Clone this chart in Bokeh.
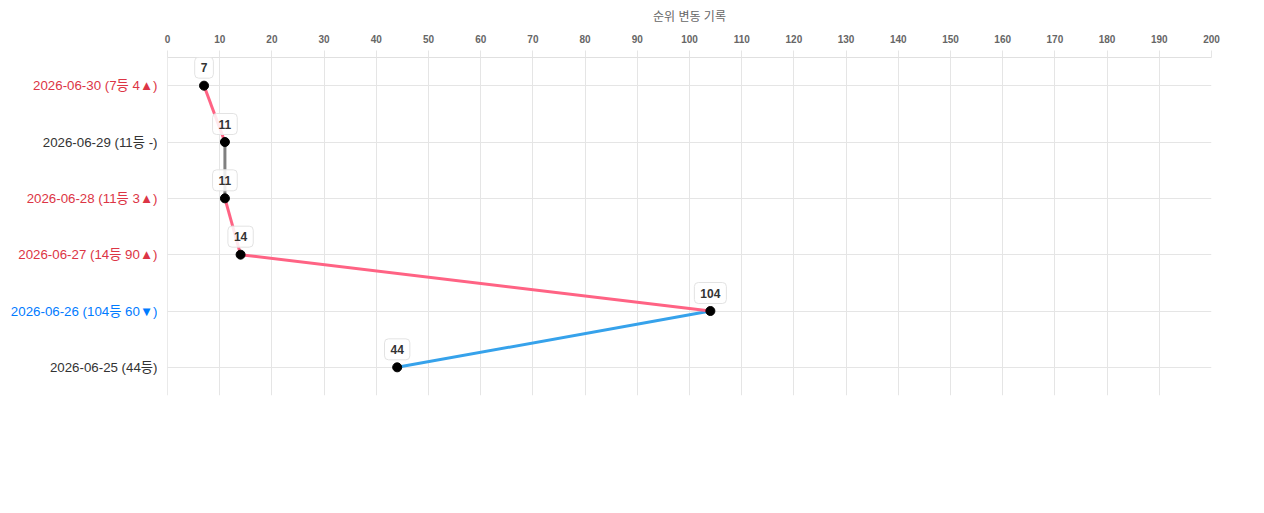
import numpy as np
from bokeh.plotting import figure
from bokeh.layouts import row
from bokeh.models import ColumnDataSource, Label, FixedTicker, Range1d, Span
from bokeh.core.properties import value
from bokeh.embed import file_html
from bokeh.resources import INLINE

# ---- data ----
dates = ["2026-06-25", "2026-06-26", "2026-06-27", "2026-06-28", "2026-06-29", "2026-06-30"]
ranks = [44, 104, 14, 11, 11, 7]
x_ticks = list(range(0, 201, 10))
title_text = "순위 변동 기록"

FONT = "Liberation Sans, Noto Sans CJK KR, sans-serif"
UP_TEXT = "#dc3545"
DOWN_TEXT = "#007bff"
FLAT_TEXT = "#333333"
UP_LINE = "#ff6384"
DOWN_LINE = "#36a2eb"
FLAT_LINE = "#808080"

labels, label_colors = [], []
for i, (d, r) in enumerate(zip(dates, ranks)):
    if i == 0:
        labels.append(f"{d} ({r}등)")
        label_colors.append(FLAT_TEXT)
        continue
    diff = ranks[i - 1] - r
    if diff > 0:
        labels.append(f"{d} ({r}등 {diff}▲)")
        label_colors.append(UP_TEXT)
    elif diff < 0:
        labels.append(f"{d} ({r}등 {-diff}▼)")
        label_colors.append(DOWN_TEXT)
    else:
        labels.append(f"{d} ({r}등 -)")
        label_colors.append(FLAT_TEXT)

TOP, BOTTOM, LEFT_W, GAP = 57, 110, 157, 10
H = 505

# ---- label column (category names, coloured per change) ----
lf = figure(width=LEFT_W, height=H, x_range=Range1d(0, 1), y_range=labels,
            output_backend="svg", toolbar_location=None,
            min_border_left=0, min_border_right=0, min_border_top=TOP, min_border_bottom=BOTTOM)
lf.axis.visible = False
lf.grid.visible = False
lf.outline_line_color = None
lsrc = ColumnDataSource(dict(x=[1] * len(labels), y=labels, lab=labels, col=label_colors))
lf.text(x="x", y="y", text="lab", source=lsrc, text_align="right",
        text_baseline="middle", text_font=value(FONT), text_font_size="13.3px", text_color="col")

# ---- main chart ----
p = figure(width=1256 - LEFT_W, height=H, x_range=Range1d(0, 200), y_range=lf.y_range,
           x_axis_location="above", output_backend="svg", toolbar_location=None,
           min_border_left=GAP, min_border_right=45, min_border_top=TOP, min_border_bottom=BOTTOM)
p.outline_line_color = None
p.background_fill_color = "white"

ticker = FixedTicker(ticks=x_ticks)
p.xaxis.ticker = ticker
p.xgrid.ticker = ticker
p.xaxis.axis_label = title_text
p.xaxis.axis_label_text_font = FONT
p.xaxis.axis_label_text_font_style = "normal"
p.xaxis.axis_label_text_font_size = "12px"
p.xaxis.axis_label_text_color = "#666666"
p.xaxis.axis_label_standoff = 8
p.xaxis.major_label_text_font = FONT
p.xaxis.major_label_text_font_style = "bold"
p.xaxis.major_label_text_font_size = "10px"
p.xaxis.major_label_text_color = "#666666"
p.xaxis.major_label_standoff = 8
p.xaxis.axis_line_color = "#e0e0e0"
p.xaxis.major_tick_line_color = "#e5e5e5"
p.xaxis.major_tick_out = 7
p.xaxis.major_tick_in = 0
p.xaxis.minor_tick_line_color = None

p.yaxis.visible = False
p.xgrid.grid_line_color = "#e5e5e5"
p.ygrid.grid_line_color = "#e5e5e5"
p.add_layout(Span(location=0, dimension="height", line_color="#d6d6d6", line_width=1))

# segments colored by direction
x0, y0, x1, y1, seg_colors = [], [], [], [], []
for i in range(len(ranks) - 1):
    x0.append(ranks[i]); y0.append(labels[i])
    x1.append(ranks[i + 1]); y1.append(labels[i + 1])
    if ranks[i + 1] < ranks[i]:
        seg_colors.append(UP_LINE)
    elif ranks[i + 1] > ranks[i]:
        seg_colors.append(DOWN_LINE)
    else:
        seg_colors.append(FLAT_LINE)
p.segment(x0=x0, y0=y0, x1=x1, y1=y1, line_color=seg_colors, line_width=3)

src = ColumnDataSource(dict(x=ranks, y=labels))
p.scatter("x", "y", source=src, size=9, fill_color="black", line_color="black")

# value boxes above points (factor i sits at synthetic coordinate i + 0.5)
for i, r in enumerate(ranks):
    p.add_layout(Label(x=r, y=i + 0.5, text=str(r), y_offset=18,
                       text_align="center", text_baseline="middle",
                       text_font=FONT, text_font_style="bold", text_font_size="12px",
                       text_color="#333333", background_fill_color="white", background_fill_alpha=0.85,
                       border_line_color="#e3e3e3", border_line_width=1, border_radius=4, padding=6))

layout = row(lf, p, spacing=0)
open("out.html", "w").write(file_html(layout, INLINE))
